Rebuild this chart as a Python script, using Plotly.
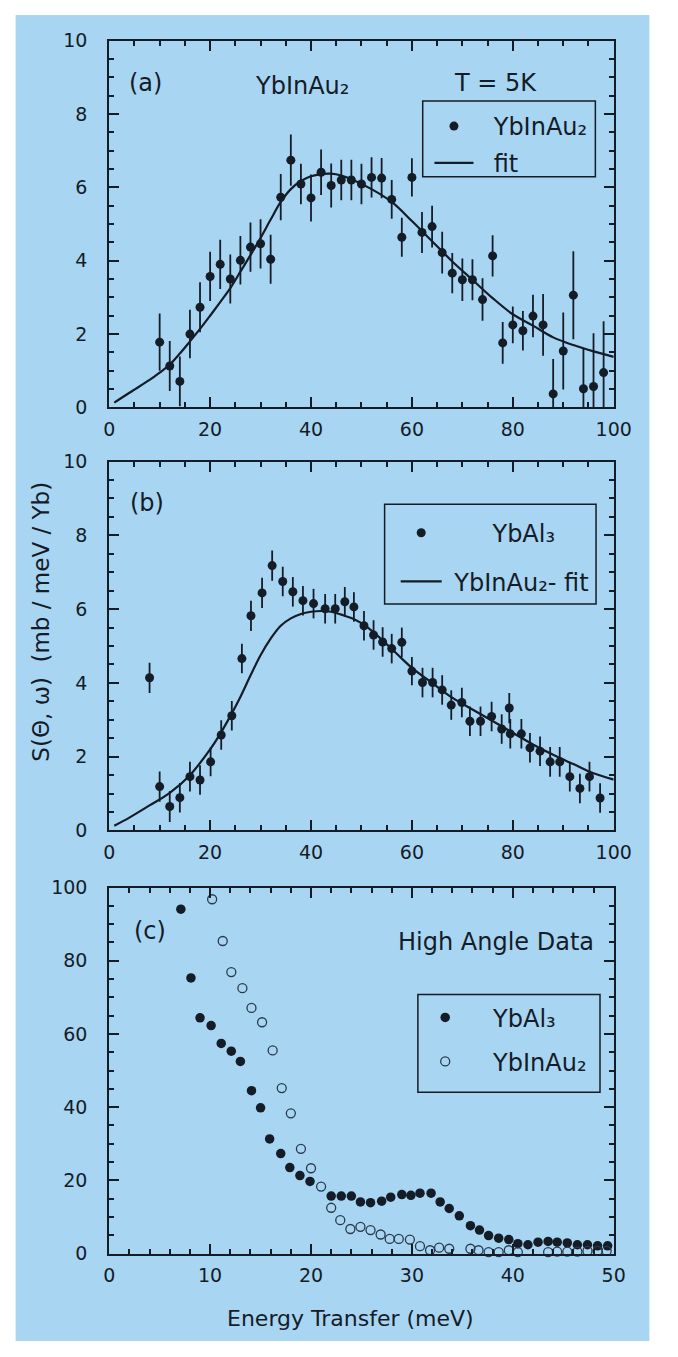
import plotly.graph_objects as go

# ---------------- data ----------------
# (a) YbInAu2 at T = 5 K
a_energy = [10, 12, 14, 16, 18, 20, 22, 24, 26, 28, 30, 32, 34, 36, 38, 40, 42, 44, 46, 48,
            50, 52, 54, 56, 58, 60, 62, 64, 66, 68, 70, 72, 74, 76, 78, 80, 82, 84, 86, 88,
            90, 92, 94, 96, 98]
a_signal = [1.78, 1.13, 0.71, 2.00, 2.73, 3.57, 3.90, 3.50, 4.01, 4.37, 4.46, 4.04, 5.73, 6.74,
            6.09, 5.71, 6.41, 6.05, 6.20, 6.20, 6.09, 6.27, 6.25, 5.67, 4.64, 6.27, 4.77, 4.93,
            4.22, 3.66, 3.48, 3.48, 2.94, 4.13, 1.76, 2.25, 2.09, 2.49, 2.25, 0.37, 1.54, 3.06,
            0.51, 0.57, 0.95]
a_error = [0.78, 0.68, 0.68, 0.66, 0.68, 0.67, 0.67, 0.67, 0.66, 0.67, 0.67, 0.67, 0.63, 0.70,
           0.55, 0.64, 0.62, 0.60, 0.55, 0.55, 0.55, 0.55, 0.55, 0.53, 0.53, 0.52, 0.56, 0.57,
           0.57, 0.55, 0.58, 0.56, 0.58, 0.56, 0.57, 0.50, 0.54, 0.58, 0.84, 0.95, 1.05, 1.20,
           1.10, 1.45, 1.40]
a_fit_energy = [1, 4, 8, 10, 12, 14, 16, 18, 20, 22, 24, 26, 28, 30, 32, 34, 36, 38, 40, 42,
                44, 46, 48, 52, 56, 60, 64, 68, 72, 76, 80, 84, 88, 92, 96, 100]
a_fit_signal = [0.13, 0.40, 0.75, 0.95, 1.17, 1.47, 1.80, 2.14, 2.50, 2.87, 3.25, 3.70, 4.15,
                4.62, 5.12, 5.60, 5.95, 6.17, 6.30, 6.36, 6.37, 6.32, 6.22, 5.95, 5.60, 5.08,
                4.53, 3.98, 3.48, 2.98, 2.54, 2.23, 1.91, 1.70, 1.53, 1.38]

# (b) YbAl3 compared with the YbInAu2 fit
b_energy = [8.0, 10.0, 12.0, 14.0, 16.0, 18.0, 20.1, 22.2, 24.3, 26.3, 28.1, 30.3, 32.3, 34.4,
            36.4, 38.4, 40.5, 42.8, 44.8, 46.7, 48.5, 50.5, 52.4, 54.2, 56.0, 58.0, 60.0, 62.1,
            64.1, 66.0, 67.8, 69.9, 71.5, 73.6, 75.8, 77.8, 79.3, 79.5, 81.7, 83.4, 85.4, 87.4,
            89.3, 91.3, 93.3, 95.2, 97.3]
b_signal = [4.14, 1.19, 0.65, 0.89, 1.46, 1.37, 1.86, 2.59, 3.11, 4.66, 5.82, 6.44, 7.18, 6.75,
            6.47, 6.23, 6.15, 6.01, 6.01, 6.20, 6.06, 5.55, 5.30, 5.11, 4.93, 5.10, 4.32, 4.01,
            4.01, 3.81, 3.40, 3.47, 2.96, 2.96, 3.09, 2.75, 3.32, 2.62, 2.62, 2.24, 2.15, 1.86,
            1.86, 1.46, 1.14, 1.46, 0.88]
b_error = [0.41, 0.41, 0.42, 0.40, 0.40, 0.40, 0.39, 0.40, 0.40, 0.40, 0.41, 0.41, 0.41, 0.40,
           0.40, 0.40, 0.40, 0.40, 0.40, 0.40, 0.40, 0.40, 0.40, 0.40, 0.40, 0.40, 0.38, 0.40,
           0.40, 0.40, 0.40, 0.40, 0.40, 0.40, 0.40, 0.40, 0.41, 0.40, 0.40, 0.40, 0.40, 0.40,
           0.40, 0.40, 0.40, 0.40, 0.40]
b_fit_energy = [1, 4, 8, 12, 16, 20, 22, 24, 26, 28, 30, 32, 34, 36, 38, 40, 42, 44, 46, 48,
                50, 52, 54, 56, 58, 60, 64, 68, 72, 76, 80, 84, 88, 92, 96, 100]
b_fit_signal = [0.13, 0.35, 0.68, 1.02, 1.50, 2.20, 2.62, 3.10, 3.62, 4.20, 4.75, 5.20, 5.55,
                5.75, 5.87, 5.93, 5.95, 5.93, 5.85, 5.76, 5.62, 5.42, 5.18, 4.92, 4.66, 4.41,
                4.00, 3.60, 3.28, 2.97, 2.65, 2.33, 2.05, 1.80, 1.55, 1.38]

# (c) high angle data
c_al_energy = [7.1, 8.1, 9.0, 10.1, 11.1, 12.1, 13.0, 14.1, 15.0, 15.9, 17.0, 17.9, 18.9, 19.9,
               22.0, 23.0, 24.0, 24.9, 25.9, 27.0, 27.9, 29.0, 29.9, 30.8, 31.9, 32.8, 33.7,
               34.7, 35.8, 36.7, 37.6, 38.6, 39.6, 40.5, 41.5, 42.5, 43.5, 44.4, 45.4, 46.4,
               47.4, 48.4, 49.4]
c_al_signal = [94.1, 75.3, 64.4, 62.3, 57.4, 55.3, 52.5, 44.5, 39.8, 31.3, 27.3, 23.5, 21.3,
               19.7, 15.7, 15.7, 15.7, 14.1, 13.9, 14.3, 15.4, 16.1, 15.9, 16.5, 16.5, 14.1,
               12.3, 10.3, 7.6, 6.4, 4.9, 4.2, 3.8, 2.7, 2.4, 3.1, 3.3, 3.1, 2.9, 2.4, 2.4,
               2.1, 2.1]
c_au_energy = [10.2, 11.25, 12.1, 13.2, 14.1, 15.15, 16.2, 17.1, 18.0, 19.0, 20.0, 21.0, 22.0,
               22.9, 23.9, 24.9, 25.9, 26.9, 27.8, 28.7, 29.8, 30.8, 31.8, 32.7, 33.7, 35.8,
               36.6, 37.6, 38.6, 39.6, 40.5, 43.5, 44.4, 45.4, 46.4, 47.4, 48.4, 49.3]
c_au_signal = [96.8, 85.4, 76.9, 72.5, 67.1, 63.2, 55.5, 45.2, 38.3, 28.6, 23.3, 18.3, 12.5,
               9.1, 6.7, 7.3, 6.4, 5.2, 4.0, 4.0, 3.8, 2.0, 0.9, 1.6, 1.3, 1.3, 0.9, 0.4, 0.4,
               0.9, 0.4, 0.4, 0.5, 0.5, 0.5, 0.7, 0.7, 0.7]

# axis tick labels
ab_x_ticks = [0, 20, 40, 60, 80, 100]
ab_y_ticks = [0, 2, 4, 6, 8, 10]
c_x_ticks = [0, 10, 20, 30, 40, 50]
c_y_ticks = [0, 20, 40, 60, 80, 100]

# ---------------- style ----------------
W, H = 678, 1357
INK = "#141c27"
BLUE = "#a8d5f2"
FONT = "DejaVu Sans"
NB = "\u00a0"


def fx(p):
    return p / W


def fy(p):
    return 1 - p / H


X_DOMAIN = [fx(107), fx(630)]


def axis(domain, rng, ticks, minor_step, anchor, standoff):
    return dict(
        domain=domain, range=rng, anchor=anchor,
        tickvals=ticks, ticktext=[str(t) for t in ticks],
        showline=True, linecolor=INK, linewidth=2, mirror="ticks",
        ticks="inside", ticklen=10, tickwidth=1.7, tickcolor=INK,
        minor=dict(dtick=minor_step, ticks="inside", ticklen=5, tickwidth=1.5,
                   tickcolor=INK, showgrid=False),
        showgrid=False, zeroline=False, fixedrange=True,
        ticklabelstandoff=standoff,
        tickfont=dict(family=FONT, size=19, color=INK),
    )


fig = go.Figure()

marker_filled = dict(color=INK, size=9, line=dict(width=0))
err_style = dict(type="data", color=INK, thickness=1.8, width=0)
fit_line = dict(color=INK, width=2.2, shape="spline", smoothing=1.0)

# (a)
fig.add_trace(go.Scatter(
    x=a_energy, y=a_signal, mode="markers", marker=marker_filled,
    error_y=dict(array=a_error, **err_style),
    name=NB * 2 + "YbInAu\u2082", legend="legend", legendgroup="a1",
    xaxis="x", yaxis="y"))
fig.add_trace(go.Scatter(
    x=a_fit_energy, y=a_fit_signal, mode="lines", line=fit_line,
    name=NB * 2 + "fit", legend="legend", legendgroup="a2",
    xaxis="x", yaxis="y"))

# (b)
fig.add_trace(go.Scatter(
    x=b_energy, y=b_signal, mode="markers", marker=marker_filled,
    error_y=dict(array=b_error, **err_style),
    name=NB * 6 + "YbAl\u2083", legend="legend2", legendgroup="b1",
    xaxis="x2", yaxis="y2"))
fig.add_trace(go.Scatter(
    x=b_fit_energy, y=b_fit_signal, mode="lines", line=fit_line,
    name=NB + "YbInAu\u2082- fit", legend="legend2", legendgroup="b2",
    xaxis="x2", yaxis="y2"))

# (c)
fig.add_trace(go.Scatter(
    x=c_al_energy, y=c_al_signal, mode="markers", marker=dict(color=INK, size=9.5),
    name=NB * 3 + "YbAl\u2083", legend="legend3", legendgroup="c1",
    cliponaxis=False, xaxis="x3", yaxis="y3"))
fig.add_trace(go.Scatter(
    x=c_au_energy, y=c_au_signal, mode="markers",
    marker=dict(symbol="circle-open", color="#2a3a4c", size=9, line=dict(width=1.3)),
    name=NB * 3 + "YbInAu\u2082", legend="legend3", legendgroup="c2",
    cliponaxis=False, xaxis="x3", yaxis="y3"))


def legend_at(x_px, y_px, gap, item_w):
    # legend entries only; the frame around them is drawn as a shape
    return dict(
        x=fx(x_px), y=fy(y_px), xanchor="left", yanchor="top", bgcolor="rgba(0,0,0,0)",
        borderwidth=0, itemwidth=item_w, tracegroupgap=gap,
        font=dict(family=FONT, size=24, color=INK), itemclick=False,
    )


def frame(x0, y0, x1, y1):
    return dict(type="rect", xref="paper", yref="paper", x0=fx(x0), x1=fx(x1),
                y0=fy(y1), y1=fy(y0), line=dict(color=INK, width=1.5),
                fillcolor="rgba(0,0,0,0)", layer="above")


annot_font = dict(family=FONT, size=24, color=INK)
annotations = [
    dict(text="(a)", x=7.2, y=8.84, xref="x", yref="y", showarrow=False, font=annot_font),
    dict(text="YbInAu\u2082", x=28.5, y=8.75, xref="x", yref="y", xanchor="left",
         showarrow=False, font=annot_font),
    dict(text="T = 5K", x=76.5, y=8.84, xref="x", yref="y", showarrow=False, font=annot_font),
    dict(text="(b)", x=7.4, y=8.88, xref="x2", yref="y2", showarrow=False, font=annot_font),
    dict(text="(c)", x=4.0, y=88.1, xref="x3", yref="y3", showarrow=False, font=annot_font),
    dict(text="High Angle Data", x=38.3, y=85.0, xref="x3", yref="y3", showarrow=False,
         font=dict(family=FONT, size=24, color=INK)),
    dict(text="Energy Transfer (meV)", x=fx(357), y=fy(1329), xref="paper", yref="paper",
         xanchor="center", yanchor="middle", showarrow=False,
         font=dict(family=FONT, size=22, color=INK)),
    dict(text="S(\u0398, \u03c9)" + NB * 2 + "(mb / meV / Yb)", x=fx(36), y=fy(621),
         xref="paper", yref="paper", xanchor="center", yanchor="middle", textangle=-90,
         showarrow=False, font=dict(family=FONT, size=23, color=INK)),
]

fig.update_layout(
    width=W, height=H, margin=dict(l=0, r=0, t=0, b=0),
    paper_bgcolor="white", plot_bgcolor="rgba(0,0,0,0)",
    font=dict(family=FONT, color=INK),
    showlegend=True,
    xaxis=axis(X_DOMAIN, [0, 100], ab_x_ticks, 5, "y", 4),
    yaxis=axis([fy(403), fy(30)], [0, 10], ab_y_ticks, 0.5, "x", 16),
    xaxis2=axis(X_DOMAIN, [0, 100], ab_x_ticks, 5, "y2", 4),
    yaxis2=axis([fy(833), fy(458)], [0, 10], ab_y_ticks, 0.5, "x2", 16),
    xaxis3=axis(X_DOMAIN, [0, 50], c_x_ticks, 2, "y3", 4),
    yaxis3=axis([fy(1263), fy(891)], [0, 100], c_y_ticks, 5, "x3", 16),
    legend=legend_at(439, 94.5, 2.6, 39),
    legend2=legend_at(404, 507.9, 14.5, 41),
    legend3=legend_at(429.4, 1000.6, 9.7, 40),
    annotations=annotations,
    shapes=[
        dict(type="rect", xref="paper", yref="paper", x0=fx(10), x1=fx(667),
             y0=fy(1352), y1=fy(4), fillcolor=BLUE, line=dict(width=0), layer="below"),
        frame(432, 91.6, 611, 168.4),
        frame(392.5, 501.5, 611.7, 602.8),
        frame(427, 999.6, 615.8, 1099),
    ],
)

fig.write_html("out.html")
